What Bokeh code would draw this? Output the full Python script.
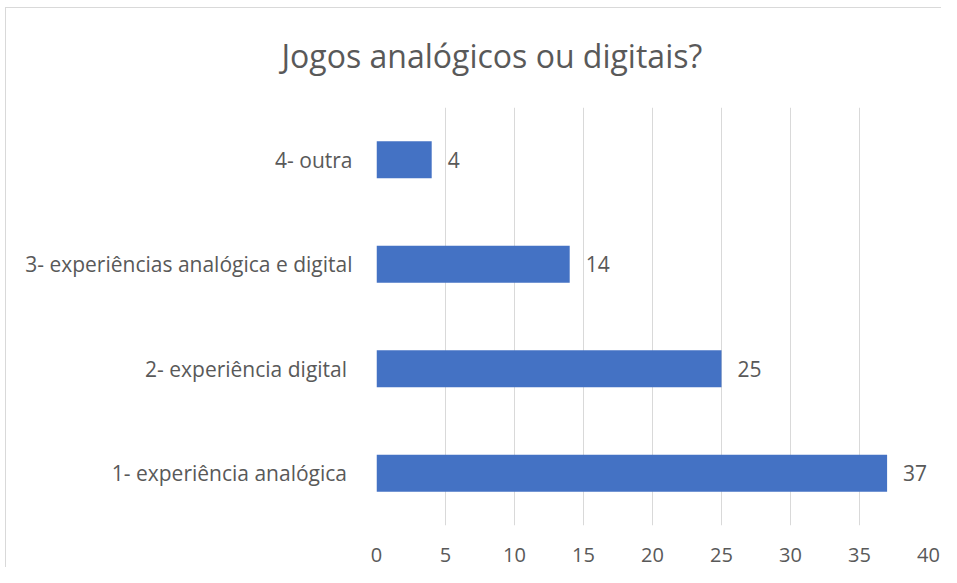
from bokeh.plotting import figure
from bokeh.models import Range1d, FixedTicker, ColumnDataSource
from bokeh.core.properties import value
from bokeh.embed import file_html
from bokeh.resources import INLINE

title_text = "Jogos analógicos ou digitais?"
categories = ["1-  experiência analógica", "2-  experiência digital",
              "3- experiências analógica e digital", "4- outra"]
counts = [37, 25, 14, 4]
x_ticks = [0, 5, 10, 15, 20, 25, 30, 35, 40]

TEXT = "#595959"
GRID = "#D9D9D9"
BAR = "#4472C4"

p = figure(width=941, height=567, output_backend="svg", toolbar_location=None,
           y_range=categories, x_range=Range1d(0, 40),
           min_border_left=376, min_border_right=13, min_border_top=106, min_border_bottom=42)
p.styles = {
    "background-color": "white",
    "background-image": "linear-gradient(#D9D9D9, #D9D9D9), linear-gradient(#D9D9D9, #D9D9D9)",
    "background-size": "1px 100%, 100% 1px",
    "background-position": "5px 7px, 5px 7px",
    "background-repeat": "no-repeat",
}
p.outline_line_color = None
p.background_fill_color = "white"
p.border_fill_color = None

src = ColumnDataSource(dict(cat=categories, val=counts, lab=[str(c) for c in counts]))
p.hbar(y="cat", right="val", left=0, height=0.353, source=src, fill_color=BAR, line_color=None)
p.text(x="val", y="cat", text="lab", source=src, x_offset=16, text_baseline="middle",
       text_align="left", text_color=TEXT, text_font=value("Open Sans"), text_font_size="21px")

p.xaxis.ticker = FixedTicker(ticks=x_ticks)
p.xaxis.axis_line_color = None
p.xaxis.major_tick_line_color = None
p.xaxis.minor_tick_line_color = None
p.xaxis.major_label_text_color = TEXT
p.xaxis.major_label_text_font = "Open Sans"
p.xaxis.major_label_text_font_size = "20px"
p.xaxis.major_label_standoff = 16

p.yaxis.axis_line_color = None
p.yaxis.major_tick_line_color = None
p.yaxis.minor_tick_line_color = None
p.yaxis.major_label_text_color = TEXT
p.yaxis.major_label_text_font = "Open Sans"
p.yaxis.major_label_text_font_size = "21px"
p.yaxis.major_label_standoff = 18

p.xgrid.grid_line_color = GRID
p.xgrid.grid_line_width = 1
p.ygrid.grid_line_color = None

p.title.text = title_text
p.title.align = "left"
p.title.offset = -95
p.title.vertical_align = "bottom"
p.title.standoff = 62
p.title.text_color = TEXT
p.title.text_font = "Open Sans"
p.title.text_font_style = "normal"
p.title.text_font_size = "32px"

open("out.html", "w").write(file_html(p, INLINE))
